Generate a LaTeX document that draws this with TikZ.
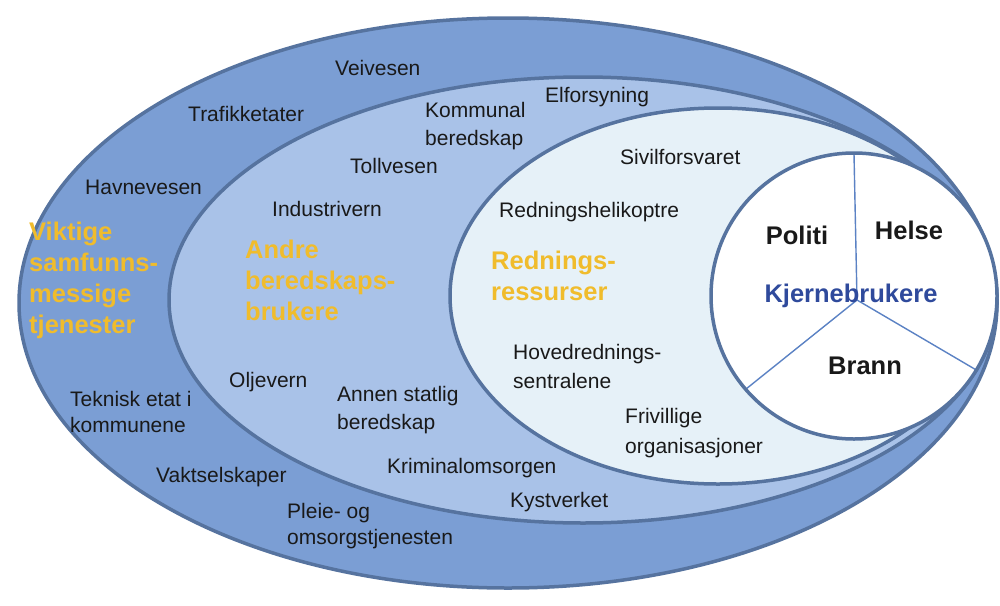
\documentclass[tikz,border=0pt]{standalone}
\usepackage{fontspec}
\setmainfont{Liberation Sans}
\definecolor{outerfill}{HTML}{7B9ED4}
\definecolor{midfill}{HTML}{A9C2E8}
\definecolor{innerfill}{HTML}{E6F1F8}
\definecolor{rimcol}{HTML}{56739F}
\definecolor{splitcol}{HTML}{5B82C4}
\definecolor{goldtxt}{HTML}{F0BC2C}
\definecolor{coretxt}{HTML}{2F4A9C}
\begin{document}
\begin{tikzpicture}[x=1pt,y=-1pt,
  rim/.style={draw=rimcol,line width=3.5pt},
  txt/.style={anchor=west,inner sep=0pt,align=left,text=black!90,font=\fontsize{21}{27}\selectfont},
  gold/.style={anchor=west,inner sep=0pt,align=left,text=goldtxt,font=\bfseries\fontsize{25.5}{31}\selectfont},
  core/.style={inner sep=0pt,text=black!90,font=\bfseries\fontsize{25.5}{30}\selectfont},
  splitline/.style={draw=splitcol,line width=1.4pt}]
\useasboundingbox (0,0) rectangle (1000,605);
% nested regions
\fill[outerfill] (508,303) ellipse [x radius=489pt, y radius=285pt];
\draw[rim] (508,303) ellipse [x radius=489pt, y radius=285pt];
\fill[midfill] (583,300) ellipse [x radius=414pt, y radius=223pt];
\draw[rim] (583,300) ellipse [x radius=414pt, y radius=223pt];
\fill[innerfill] (718,296) ellipse [x radius=268pt, y radius=188pt];
\draw[rim] (718,296) ellipse [x radius=268pt, y radius=188pt];
\fill[white] (854,296) circle [radius=143pt];
% division of the core
\coordinate (hub) at (857,300);
\coordinate (ctop) at (854,154);
\coordinate (cll) at (746,389);
\coordinate (clr) at (978,371);
\draw[splitline] (hub) -- (ctop);
\draw[splitline] (hub) -- (cll);
\draw[splitline] (hub) -- (clr);
\draw[rim] (854,296) circle [radius=143pt];
% outer ring texts
\node[txt] (veivesen) at (335,68) {Veivesen};
\node[txt] (trafikk) at (188,114) {Trafikketater};
\node[txt] (havne) at (85,187) {Havnevesen};
\node[gold] (viktige) at (29,280) {Viktige\\samfunns-\\messige\\tjenester};
\node[txt,font=\fontsize{21}{26}\selectfont] (teknisk) at (70,412) {Teknisk etat i\\kommunene};
\node[txt] (vakt) at (156,477) {Vaktselskaper};
\node[txt,font=\fontsize{21}{25.5}\selectfont] (pleie) at (287,526) {Pleie- og\\omsorgstjenesten};
% middle ring texts
\node[txt] (elforsyning) at (545,97) {Elforsyning};
\node[txt,font=\fontsize{21}{28.5}\selectfont] (kommunal) at (425,126) {Kommunal\\beredskap};
\node[txt] (toll) at (350,166) {Tollvesen};
\node[txt] (industri) at (272,209) {Industrivern};
\node[gold] (andre) at (245,280) {Andre\\beredskaps-\\brukere};
\node[txt] (olje) at (229,382) {Oljevern};
\node[txt,font=\fontsize{21}{28.5}\selectfont] (annen) at (337,410) {Annen statlig\\beredskap};
\node[txt] (krim) at (387,468) {Kriminalomsorgen};
\node[txt] (kyst) at (510,502) {Kystverket};
% inner ring texts
\node[txt] (sivil) at (620,157) {Sivilforsvaret};
\node[txt] (heli) at (499,212) {Redningshelikoptre};
\node[gold] (rednings) at (491,276) {Rednings-\\ressurser};
\node[txt,font=\fontsize{21}{29}\selectfont] (hoved) at (513,366) {Hovedrednings-\\sentralene};
\node[txt,font=\fontsize{21}{30}\selectfont] (frivillige) at (625,433) {Frivillige\\organisasjoner};
% core
\node[core] (politi) at (797,235) {Politi};
\node[core] (helse) at (909,230) {Helse};
\node[core,text=coretxt] (kjerne) at (851,296) {Kjernebrukere};
\node[core] (brann) at (865,366) {Brann};
\end{tikzpicture}
\end{document}
